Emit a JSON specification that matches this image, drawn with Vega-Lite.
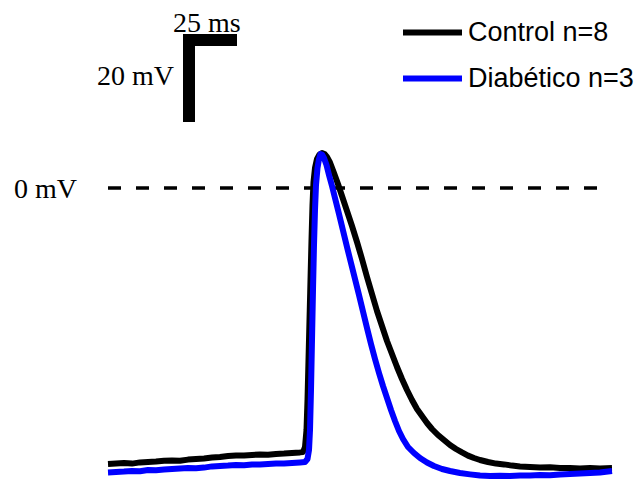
{
  "$schema": "https://vega.github.io/schema/vega-lite/v6.json",
  "width": 639,
  "height": 481,
  "autosize": {"type": "fit", "contains": "padding"},
  "padding": 0,
  "background": "white",
  "config": {"view": {"stroke": null}},
  "datasets": {
    "traces": [
      {"series": "Control n=8", "t": 0, "v": -69},
      {"series": "Control n=8", "t": 4, "v": -68.875},
      {"series": "Control n=8", "t": 8, "v": -68.75},
      {"series": "Control n=8", "t": 12, "v": -68.9},
      {"series": "Control n=8", "t": 16, "v": -68.6},
      {"series": "Control n=8", "t": 20, "v": -68.5},
      {"series": "Control n=8", "t": 24, "v": -68.4},
      {"series": "Control n=8", "t": 28, "v": -68.2},
      {"series": "Control n=8", "t": 32, "v": -68.1},
      {"series": "Control n=8", "t": 36, "v": -68.2},
      {"series": "Control n=8", "t": 40, "v": -67.9},
      {"series": "Control n=8", "t": 44, "v": -67.75},
      {"series": "Control n=8", "t": 48, "v": -67.6},
      {"series": "Control n=8", "t": 52, "v": -67.4},
      {"series": "Control n=8", "t": 56, "v": -67.25},
      {"series": "Control n=8", "t": 60, "v": -67},
      {"series": "Control n=8", "t": 64, "v": -66.9},
      {"series": "Control n=8", "t": 68, "v": -66.9},
      {"series": "Control n=8", "t": 72, "v": -66.75},
      {"series": "Control n=8", "t": 76, "v": -66.6},
      {"series": "Control n=8", "t": 80, "v": -66.7},
      {"series": "Control n=8", "t": 84, "v": -66.5},
      {"series": "Control n=8", "t": 88, "v": -66.4},
      {"series": "Control n=8", "t": 92, "v": -66.25},
      {"series": "Control n=8", "t": 96, "v": -66.1},
      {"series": "Control n=8", "t": 97.5, "v": -66},
      {"series": "Control n=8", "t": 98.5, "v": -64.75},
      {"series": "Control n=8", "t": 99.25, "v": -60.5},
      {"series": "Control n=8", "t": 99.75, "v": -53},
      {"series": "Control n=8", "t": 100.25, "v": -43},
      {"series": "Control n=8", "t": 100.75, "v": -33},
      {"series": "Control n=8", "t": 101.25, "v": -23},
      {"series": "Control n=8", "t": 101.75, "v": -13},
      {"series": "Control n=8", "t": 102.25, "v": -4.25},
      {"series": "Control n=8", "t": 102.75, "v": 1.5},
      {"series": "Control n=8", "t": 103.5, "v": 5},
      {"series": "Control n=8", "t": 104.5, "v": 7.25},
      {"series": "Control n=8", "t": 105.75, "v": 8.375},
      {"series": "Control n=8", "t": 107, "v": 8.75},
      {"series": "Control n=8", "t": 108.25, "v": 8.5},
      {"series": "Control n=8", "t": 109.5, "v": 7.75},
      {"series": "Control n=8", "t": 111, "v": 6.375},
      {"series": "Control n=8", "t": 113, "v": 3.75},
      {"series": "Control n=8", "t": 115, "v": 1},
      {"series": "Control n=8", "t": 117, "v": -2},
      {"series": "Control n=8", "t": 119.5, "v": -5.75},
      {"series": "Control n=8", "t": 122, "v": -9.5},
      {"series": "Control n=8", "t": 124.5, "v": -13.5},
      {"series": "Control n=8", "t": 127, "v": -17.75},
      {"series": "Control n=8", "t": 129.5, "v": -22.25},
      {"series": "Control n=8", "t": 132, "v": -26.5},
      {"series": "Control n=8", "t": 134.5, "v": -30.75},
      {"series": "Control n=8", "t": 137, "v": -34.5},
      {"series": "Control n=8", "t": 139.5, "v": -38.25},
      {"series": "Control n=8", "t": 142, "v": -41.5},
      {"series": "Control n=8", "t": 144.5, "v": -44.75},
      {"series": "Control n=8", "t": 147, "v": -47.75},
      {"series": "Control n=8", "t": 149.5, "v": -50.5},
      {"series": "Control n=8", "t": 152, "v": -53},
      {"series": "Control n=8", "t": 154.5, "v": -55.25},
      {"series": "Control n=8", "t": 157, "v": -57},
      {"series": "Control n=8", "t": 159.5, "v": -58.75},
      {"series": "Control n=8", "t": 162, "v": -60.25},
      {"series": "Control n=8", "t": 165, "v": -61.75},
      {"series": "Control n=8", "t": 168, "v": -63},
      {"series": "Control n=8", "t": 171, "v": -64.25},
      {"series": "Control n=8", "t": 174, "v": -65.25},
      {"series": "Control n=8", "t": 177, "v": -66.1},
      {"series": "Control n=8", "t": 180, "v": -66.9},
      {"series": "Control n=8", "t": 183, "v": -67.5},
      {"series": "Control n=8", "t": 186, "v": -68},
      {"series": "Control n=8", "t": 190, "v": -68.5},
      {"series": "Control n=8", "t": 194, "v": -68.9},
      {"series": "Control n=8", "t": 198, "v": -69.1},
      {"series": "Control n=8", "t": 202, "v": -69.4},
      {"series": "Control n=8", "t": 206, "v": -69.6},
      {"series": "Control n=8", "t": 211, "v": -69.75},
      {"series": "Control n=8", "t": 216, "v": -69.9},
      {"series": "Control n=8", "t": 221, "v": -69.8},
      {"series": "Control n=8", "t": 226, "v": -70},
      {"series": "Control n=8", "t": 231, "v": -70},
      {"series": "Control n=8", "t": 236, "v": -70.1},
      {"series": "Control n=8", "t": 241, "v": -70},
      {"series": "Control n=8", "t": 246, "v": -70.1},
      {"series": "Control n=8", "t": 252, "v": -70},
      {"series": "Diabético n=3", "t": 0, "v": -71.1},
      {"series": "Diabético n=3", "t": 4, "v": -71},
      {"series": "Diabético n=3", "t": 8, "v": -70.9},
      {"series": "Diabético n=3", "t": 12, "v": -70.75},
      {"series": "Diabético n=3", "t": 16, "v": -70.8},
      {"series": "Diabético n=3", "t": 20, "v": -70.5},
      {"series": "Diabético n=3", "t": 24, "v": -70.55},
      {"series": "Diabético n=3", "t": 28, "v": -70.4},
      {"series": "Diabético n=3", "t": 32, "v": -70.25},
      {"series": "Diabético n=3", "t": 36, "v": -70.1},
      {"series": "Diabético n=3", "t": 40, "v": -70},
      {"series": "Diabético n=3", "t": 44, "v": -70.05},
      {"series": "Diabético n=3", "t": 48, "v": -69.9},
      {"series": "Diabético n=3", "t": 52, "v": -69.6},
      {"series": "Diabético n=3", "t": 56, "v": -69.5},
      {"series": "Diabético n=3", "t": 60, "v": -69.4},
      {"series": "Diabético n=3", "t": 64, "v": -69.25},
      {"series": "Diabético n=3", "t": 68, "v": -69.3},
      {"series": "Diabético n=3", "t": 72, "v": -69.1},
      {"series": "Diabético n=3", "t": 76, "v": -69.15},
      {"series": "Diabético n=3", "t": 80, "v": -69},
      {"series": "Diabético n=3", "t": 84, "v": -68.9},
      {"series": "Diabético n=3", "t": 88, "v": -68.9},
      {"series": "Diabético n=3", "t": 92, "v": -68.75},
      {"series": "Diabético n=3", "t": 96, "v": -68.6},
      {"series": "Diabético n=3", "t": 98.5, "v": -68.5},
      {"series": "Diabético n=3", "t": 99.75, "v": -67.75},
      {"series": "Diabético n=3", "t": 100.5, "v": -65.5},
      {"series": "Diabético n=3", "t": 101, "v": -60.5},
      {"series": "Diabético n=3", "t": 101.5, "v": -50.5},
      {"series": "Diabético n=3", "t": 102, "v": -38},
      {"series": "Diabético n=3", "t": 102.5, "v": -25.5},
      {"series": "Diabético n=3", "t": 103, "v": -14.25},
      {"series": "Diabético n=3", "t": 103.5, "v": -5.5},
      {"series": "Diabético n=3", "t": 104, "v": 0.75},
      {"series": "Diabético n=3", "t": 104.75, "v": 5},
      {"series": "Diabético n=3", "t": 105.5, "v": 7.25},
      {"series": "Diabético n=3", "t": 106.25, "v": 8.5},
      {"series": "Diabético n=3", "t": 107, "v": 8.375},
      {"series": "Diabético n=3", "t": 108, "v": 7.5},
      {"series": "Diabético n=3", "t": 109.25, "v": 5.75},
      {"series": "Diabético n=3", "t": 110.5, "v": 3.25},
      {"series": "Diabético n=3", "t": 112, "v": 0.5},
      {"series": "Diabético n=3", "t": 113.75, "v": -3},
      {"series": "Diabético n=3", "t": 115.5, "v": -6.5},
      {"series": "Diabético n=3", "t": 117.5, "v": -10.625},
      {"series": "Diabético n=3", "t": 119.5, "v": -14.75},
      {"series": "Diabético n=3", "t": 121.5, "v": -18.75},
      {"series": "Diabético n=3", "t": 123.5, "v": -22.75},
      {"series": "Diabético n=3", "t": 125.5, "v": -26.75},
      {"series": "Diabético n=3", "t": 127.5, "v": -30.875},
      {"series": "Diabético n=3", "t": 129.5, "v": -35},
      {"series": "Diabético n=3", "t": 131.5, "v": -39},
      {"series": "Diabético n=3", "t": 133.5, "v": -42.75},
      {"series": "Diabético n=3", "t": 135.5, "v": -46.25},
      {"series": "Diabético n=3", "t": 137.5, "v": -49.5},
      {"series": "Diabético n=3", "t": 139.5, "v": -52.5},
      {"series": "Diabético n=3", "t": 141.5, "v": -55.5},
      {"series": "Diabético n=3", "t": 143.5, "v": -58.25},
      {"series": "Diabético n=3", "t": 145.5, "v": -60.75},
      {"series": "Diabético n=3", "t": 147.5, "v": -62.75},
      {"series": "Diabético n=3", "t": 150, "v": -64.75},
      {"series": "Diabético n=3", "t": 153, "v": -66.25},
      {"series": "Diabético n=3", "t": 156, "v": -67.5},
      {"series": "Diabético n=3", "t": 159.5, "v": -68.625},
      {"series": "Diabético n=3", "t": 163, "v": -69.5},
      {"series": "Diabético n=3", "t": 167, "v": -70.25},
      {"series": "Diabético n=3", "t": 171, "v": -70.75},
      {"series": "Diabético n=3", "t": 176, "v": -71.25},
      {"series": "Diabético n=3", "t": 181, "v": -71.6},
      {"series": "Diabético n=3", "t": 186, "v": -71.9},
      {"series": "Diabético n=3", "t": 191, "v": -72},
      {"series": "Diabético n=3", "t": 196, "v": -71.95},
      {"series": "Diabético n=3", "t": 201, "v": -72},
      {"series": "Diabético n=3", "t": 206, "v": -71.85},
      {"series": "Diabético n=3", "t": 211, "v": -71.9},
      {"series": "Diabético n=3", "t": 216, "v": -71.75},
      {"series": "Diabético n=3", "t": 221, "v": -71.8},
      {"series": "Diabético n=3", "t": 226, "v": -71.6},
      {"series": "Diabético n=3", "t": 231, "v": -71.5},
      {"series": "Diabético n=3", "t": 236, "v": -71.4},
      {"series": "Diabético n=3", "t": 241, "v": -71.25},
      {"series": "Diabético n=3", "t": 246, "v": -71.1},
      {"series": "Diabético n=3", "t": 252, "v": -70.75}
    ],
    "zeroline": [{"t": 0, "t2": 247, "v": 0, "v2": 0}],
    "scalebar": [
      {"part": "tiempo", "t": 40.5, "t2": 64.5, "v": 37, "v2": 37},
      {"part": "voltaje", "t": 40.5, "t2": 40.5, "v": 16.5, "v2": 38.5}
    ],
    "labels": [
      {"label": "25 ms", "t": 32.5, "v": 39.1},
      {"label": "20 mV", "t": -5.5, "v": 25.75},
      {"label": "0 mV", "t": -47, "v": -2.4}
    ]
  },
  "layer": [
    {
      "data": {"name": "zeroline"},
      "mark": {"type": "rule", "color": "#000000", "strokeWidth": 3.5, "strokeDash": [13, 15], "strokeCap": "butt"},
      "encoding": {
        "x": {"field": "t", "type": "quantitative", "scale": {"domain": [-54, 265.5], "nice": false, "zero": false}, "axis": null},
        "x2": {"field": "t2"},
        "y": {"field": "v", "type": "quantitative", "scale": {"domain": [-73.25, 47], "nice": false, "zero": false}, "axis": null},
        "y2": {"field": "v2"}
      }
    },
    {
      "data": {"name": "scalebar"},
      "mark": {"type": "rule", "color": "#000000", "strokeWidth": 12, "strokeCap": "butt"},
      "encoding": {
        "x": {"field": "t", "type": "quantitative", "scale": {"domain": [-54, 265.5], "nice": false, "zero": false}, "axis": null},
        "x2": {"field": "t2"},
        "y": {"field": "v", "type": "quantitative", "scale": {"domain": [-73.25, 47], "nice": false, "zero": false}, "axis": null},
        "y2": {"field": "v2"}
      }
    },
    {
      "data": {"name": "labels"},
      "mark": {"type": "text", "align": "left", "baseline": "alphabetic", "font": "Liberation Serif", "fontSize": 28, "color": "#000000"},
      "encoding": {
        "x": {"field": "t", "type": "quantitative", "scale": {"domain": [-54, 265.5], "nice": false, "zero": false}, "axis": null},
        "y": {"field": "v", "type": "quantitative", "scale": {"domain": [-73.25, 47], "nice": false, "zero": false}, "axis": null},
        "text": {"field": "label"}
      }
    },
    {
      "data": {"name": "traces"},
      "mark": {"type": "line", "strokeWidth": 6, "strokeJoin": "round", "strokeCap": "butt"},
      "encoding": {
        "x": {"field": "t", "type": "quantitative", "scale": {"domain": [-54, 265.5], "nice": false, "zero": false}, "axis": null},
        "y": {"field": "v", "type": "quantitative", "scale": {"domain": [-73.25, 47], "nice": false, "zero": false}, "axis": null},
        "color": {
          "field": "series",
          "type": "nominal",
          "scale": {"domain": ["Control n=8", "Diabético n=3"], "range": ["#000000", "#0000ff"]},
          "legend": {
            "title": null,
            "orient": "none",
            "legendX": 400,
            "legendY": 0,
            "symbolType": "stroke",
            "symbolSize": 3481,
            "symbolStrokeWidth": 6,
            "labelFont": "Liberation Sans",
            "labelFontSize": 27,
            "labelColor": "#000000",
            "labelOffset": 3,
            "labelLimit": 300,
            "rowPadding": -1,
            "padding": 0
          }
        }
      }
    }
  ]
}
